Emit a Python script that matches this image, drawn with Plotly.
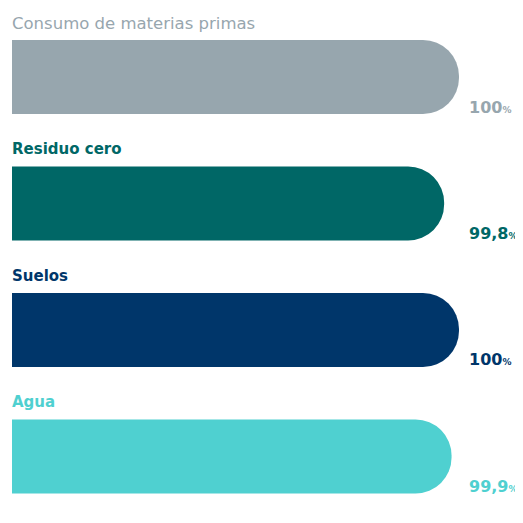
import plotly.graph_objects as go

categories = ["Consumo de materias primas", "Residuo cero", "Suelos", "Agua"]
values = [100, 99.8, 100, 99.9]
value_labels = ["100", "99,8", "100", "99,9"]
colors = ["#97a6ae", "#006766", "#00366a", "#4fd0d0"]
label_weights = [400, 700, 700, 700]
label_sizes = [16.5, 15, 15, 15]

# page body has an 8px margin, so the figure is laid out 8px smaller
W = 515
H = 515
X_START = 93.98          # value at the left edge of the visible bars
PX_PER_UNIT = 74.25

fig = go.Figure()
fig.add_trace(go.Bar(
    y=categories,
    x=values,
    orientation="h",
    marker=dict(color=colors, cornerradius=36, line=dict(width=0)),
    width=0.585,
    hoverinfo="skip",
))

font_family = "'DejaVu Sans', sans-serif"
for cat, lab, col, w, s in zip(categories, value_labels, colors, label_weights, label_sizes):
    fig.add_annotation(
        x=0, xref="paper", xshift=-2, y=cat, yref="y", yshift=54,
        text=cat, showarrow=False, xanchor="left", yanchor="middle",
        font=dict(family=font_family, size=s, color=col, weight=w),
    )
    fig.add_annotation(
        x=0.8963, xref="paper", xshift=-3, y=cat, yref="y", yshift=-30,
        text=f"{lab}<span style='font-size:9px'>%</span>",
        showarrow=False, xanchor="left", yanchor="middle",
        font=dict(family=font_family, size=16, color=col, weight=700),
    )

plot_w = W - 4
fig.update_layout(
    width=W, height=H,
    margin=dict(l=4, r=0, t=0, b=0),
    paper_bgcolor="white", plot_bgcolor="white",
    showlegend=False,
    xaxis=dict(range=[X_START, X_START + plot_w / PX_PER_UNIT], visible=False, fixedrange=True),
    yaxis=dict(categoryorder="array", categoryarray=categories,
               range=[3.526, -0.5455], visible=False, fixedrange=True),
)

fig.write_html("out.html")
